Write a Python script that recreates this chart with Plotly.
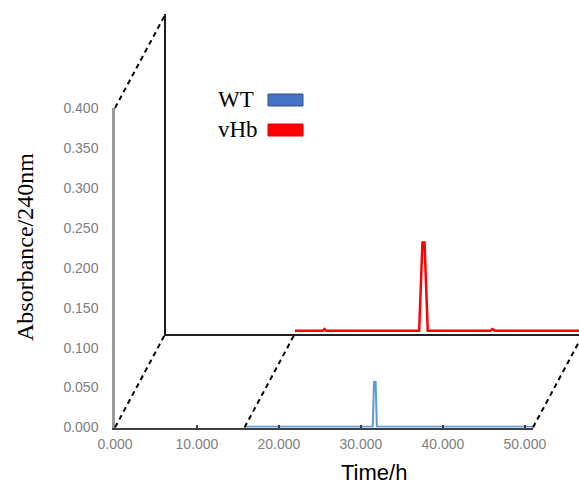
import plotly.graph_objects as go

# ---------------- data ----------------
series_names = ["WT", "vHb"]
series_colors = ["#5B9BD5", "#FF0000"]
legend_colors = ["#4472C4", "#FF0000"]
legend_borders = ["#2F528F", "#E00000"]

wt_time = [15.8, 18.0, 20.0, 22.0, 25.0, 28.0, 30.0, 31.0, 31.45, 31.6, 31.8, 31.95, 32.5, 35.0, 38.0, 40.0, 43.0, 46.0, 49.0, 51.0]
wt_abs = [0.001, 0.001, 0.0012, 0.001, 0.001, 0.001, 0.0012, 0.001, 0.001, 0.057, 0.057, 0.001, 0.001, 0.001, 0.001, 0.0013, 0.001, 0.001, 0.0012, 0.001]

vhb_time = [15.8, 18.0, 19.2, 19.4, 19.6, 22.0, 25.0, 28.0, 30.0, 30.95, 31.35, 31.6, 32.0, 33.0, 36.0, 39.6, 39.9, 40.2, 43.0, 46.0, 49.0, 51.0]
vhb_abs = [0.0035, 0.0035, 0.0035, 0.0055, 0.0035, 0.0035, 0.0035, 0.0035, 0.0035, 0.0035, 0.114, 0.114, 0.0035, 0.0035, 0.0035, 0.0035, 0.0055, 0.0035, 0.0035, 0.0035, 0.0035, 0.0035]

x_ticks = [0, 10, 20, 30, 40, 50]
x_tick_labels = ["0.000", "10.000", "20.000", "30.000", "40.000", "50.000"]
y_ticks = [0, 0.05, 0.1, 0.15, 0.2, 0.25, 0.3, 0.35, 0.4]
y_tick_labels = ["0.000", "0.050", "0.100", "0.150", "0.200", "0.250", "0.300", "0.350", "0.400"]

x_title = "Time/h"
y_title = "Absorbance/240nm"

# ---------------- geometry (screen pixels) ----------------
W, H = 579, 485
PAGE_OFFSET = 0  # page margin removed by post_script below
front_left, front_right = 115, 533
front_bottom, front_top = 427.5, 108
depth_dx, depth_dy = 50.5, -94
x_max = 51.0
y_max = 0.4
px_per_x = (front_right - front_left) / x_max

back_left = front_left + depth_dx
back_bottom = front_bottom + depth_dy
back_top = front_top + depth_dy
back_xmax = (W + PAGE_OFFSET - back_left) / px_per_x


def px(v):
    return (v - PAGE_OFFSET) / W


def py(v):
    return 1 - (v - PAGE_OFFSET) / H


fig = go.Figure()

fig.add_trace(go.Scatter(
    x=wt_time, y=wt_abs, name=series_names[0], mode="lines",
    line=dict(color=series_colors[0], width=2), xaxis="x", yaxis="y",
    showlegend=False,
))
fig.add_trace(go.Scatter(
    x=vhb_time, y=vhb_abs, name=series_names[1], mode="lines",
    line=dict(color=series_colors[1], width=2.5), xaxis="x2", yaxis="y2",
    showlegend=False,
))

# dashed depth lines
t_start = wt_time[0]
t_end = wt_time[-1]
dash_pts = [
    (front_left, front_top),
    (front_left, front_bottom),
    (front_left + t_start * px_per_x, front_bottom),
    (front_left + t_end * px_per_x, front_bottom),
]
shapes = []
for (x0, y0) in dash_pts:
    shapes.append(dict(
        type="line", xref="paper", yref="paper",
        x0=px(x0), y0=py(y0), x1=px(x0 + depth_dx), y1=py(y0 + depth_dy),
        line=dict(color="black", width=2, dash="5px,4px"),
    ))

# legend (text left, swatch right)
leg_text_x = 216
leg_sw_x0, leg_sw_x1 = 268, 303
leg_rows = [100, 130]
annotations = []
for i, name in enumerate(series_names):
    yc = leg_rows[i]
    annotations.append(dict(
        xref="paper", yref="paper", x=px(leg_text_x), y=py(yc),
        xanchor="left", yanchor="middle", showarrow=False, text=name,
        font=dict(family="Liberation Serif", size=23, color="black"),
    ))
    shapes.append(dict(
        type="rect", xref="paper", yref="paper",
        x0=px(leg_sw_x0), x1=px(leg_sw_x1), y0=py(yc - 6), y1=py(yc + 6),
        fillcolor=legend_colors[i], line=dict(color=legend_borders[i], width=1),
    ))

annotations.append(dict(
    xref="paper", yref="paper", x=px(374), y=py(472),
    xanchor="center", yanchor="middle", showarrow=False, text=x_title,
    font=dict(family="Liberation Sans", size=22, color="black"),
))
annotations.append(dict(
    xref="paper", yref="paper", x=px(25), y=py(247),
    xanchor="center", yanchor="middle", showarrow=False, text=y_title,
    textangle=-90,
    font=dict(family="Liberation Serif", size=24, color="black"),
))

tick_font = dict(family="Liberation Sans", size=14, color="#808080")

fig.update_layout(
    width=W, height=H,
    margin=dict(l=0, r=0, t=0, b=0, pad=0),
    paper_bgcolor="white", plot_bgcolor="rgba(0,0,0,0)",
    showlegend=False,
    shapes=shapes, annotations=annotations,
    xaxis=dict(
        domain=[px(front_left), px(front_right)], range=[0, x_max],
        anchor="y", tickvals=x_ticks, ticktext=x_tick_labels,
        ticks="inside", ticklen=3, tickcolor="#404040", tickwidth=1.5,
        showline=True, linecolor="#404040", linewidth=1.5,
        showgrid=False, zeroline=False, tickfont=tick_font,
        ticklabelstandoff=3, automargin=False,
    ),
    yaxis=dict(
        domain=[py(front_bottom), py(front_top)], range=[0, y_max],
        anchor="x", tickvals=y_ticks, ticktext=y_tick_labels,
        ticks="", showline=True, linecolor="#9A9A9A", linewidth=2.5,
        showgrid=False, zeroline=False, tickfont=tick_font,
        ticklabelstandoff=11, automargin=False,
    ),
    xaxis2=dict(
        domain=[px(back_left), 1], range=[0, back_xmax], anchor="y2",
        showticklabels=False, ticks="", showline=True, linecolor="#202020",
        linewidth=1.5, showgrid=False, zeroline=False,
    ),
    yaxis2=dict(
        domain=[py(back_bottom), py(back_top)], range=[0, y_max], anchor="x2",
        showticklabels=False, ticks="", showline=True, linecolor="#202020",
        linewidth=1.5, showgrid=False, zeroline=False,
    ),
)

fig.write_html(
    "out.html",
    config={"displayModeBar": False},
    post_script="document.body.style.margin='0';document.documentElement.style.overflow='hidden';",
)
